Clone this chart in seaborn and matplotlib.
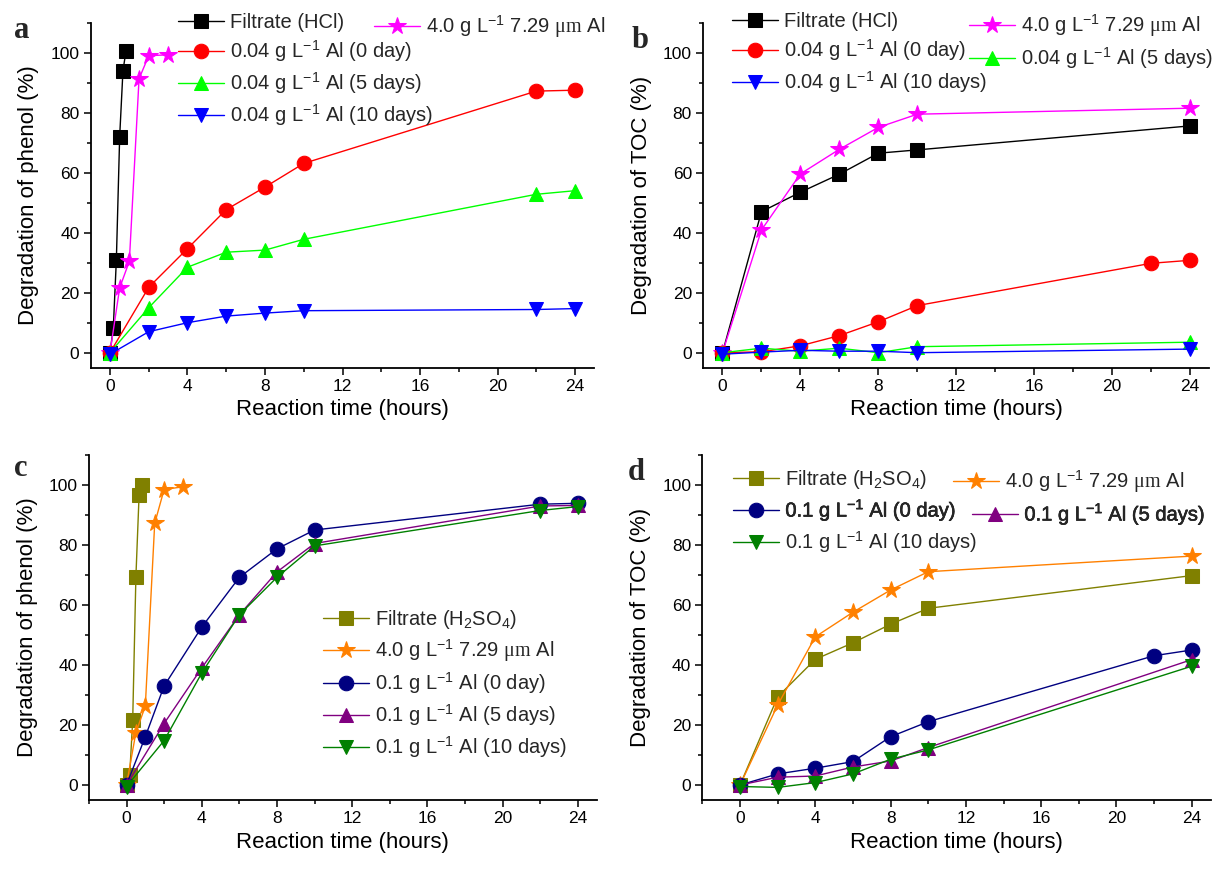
import numpy as np
import pandas as pd
import seaborn as sns
import matplotlib as mpl
import matplotlib.pyplot as plt
import matplotlib.patheffects as pe
from matplotlib.ticker import MultipleLocator
mpl.use('agg')

# ---- data ----
# panel a: phenol, HCl run
a_filt_t = [0, 0.17, 0.33, 0.5, 0.67, 0.83]
a_filt_v = [0, 8.1, 31, 72, 94, 100.7]
a_star_t = [0, 0.5, 1, 1.5, 2, 3]
a_star_v = [0, 21.6, 30.5, 91.3, 99, 99.3]
a_t = [0, 2, 4, 6, 8, 10, 22, 24]
a_day0 = [0, 21.8, 34.7, 47.7, 55.2, 63.1, 87.2, 87.5]
a_day5 = [0, 15, 28.5, 33.5, 34.2, 37.8, 52.8, 54]
a_day10 = [-0.5, 7, 10, 12.2, 13.2, 14, 14.4, 14.7]

# panel b: TOC, HCl run
b_t = [0, 2, 4, 6, 8, 10, 24]
b_filt = [0, 47, 53.5, 59.5, 66.5, 67.6, 75.6]
b_star = [0, 40.9, 59.6, 67.8, 75.1, 79.5, 81.5]
b_t_red = [0, 2, 4, 6, 8, 10, 22, 24]
b_day0 = [0, 0.3, 2.3, 5.7, 10.3, 15.7, 29.8, 30.8]
b_day5 = [0, 1.5, 0.5, 1.5, 0, 2, 3.5]
b_day10 = [-0.5, 0.2, 0.8, 0.5, 0.5, 0, 1.2]

# panel c: phenol, H2SO4 run
c_filt_t = [0, 0.17, 0.33, 0.5, 0.67, 0.83]
c_filt_v = [0, 3.3, 21.7, 69.4, 96.7, 100]
c_star_t = [0, 0.5, 1, 1.5, 2, 3]
c_star_v = [0, 17.5, 26.3, 87.2, 98.5, 99.4]
c_t = [0, 1, 2, 4, 6, 8, 10, 22, 24]
c_day0 = [0, 16.1, 33, 52.6, 69.2, 78.7, 85, 93.6, 93.9]
c_t5 = [0, 2, 4, 6, 8, 10, 22, 24]
c_day5 = [0, 20.5, 39, 56.7, 71, 80.5, 93, 93.2]
c_day10 = [-0.5, 14.8, 37.3, 56.7, 69.2, 79.7, 91.5, 92.8]

# panel d: TOC, H2SO4 run
d_t = [0, 2, 4, 6, 8, 10, 24]
d_filt = [0, 29.4, 41.9, 47.4, 53.6, 58.9, 69.8]
d_star = [0, 26.7, 49.4, 57.6, 65, 71.1, 76.3]
d_t0 = [0, 2, 4, 6, 8, 10, 22, 24]
d_day0 = [0, 3.7, 5.6, 7.8, 16.1, 21.1, 43.1, 45]
d_day5 = [0, 2.6, 3, 6, 8, 12.5, 41.8]
d_day10 = [-0.5, -0.8, 0.8, 3.7, 8.6, 11.7, 39.6]

lab_filt_hcl = 'Filtrate (HCl)'
lab_filt_h2so4 = 'Filtrate (H$_2$SO$_4$)'
lab_star = '4.0 g L$^{-1}$ 7.29 $\\mathsf{μm}$ Al'
lab_a = ['0.04 g L$^{-1}$ Al (0 day)', '0.04 g L$^{-1}$ Al (5 days)',
         '0.04 g L$^{-1}$ Al (10 days)']
lab_c = ['0.1 g L$^{-1}$ Al (0 day)', '0.1 g L$^{-1}$ Al (5 days)',
         '0.1 g L$^{-1}$ Al (10 days)']

sns.set_theme(style='ticks')
plt.rcParams['font.family'] = ['Liberation Sans', 'DejaVu Sans']
plt.rcParams['mathtext.fontset'] = 'custom'
plt.rcParams['mathtext.rm'] = 'Liberation Sans'
plt.rcParams['mathtext.sf'] = 'Liberation Serif'
plt.rcParams['mathtext.default'] = 'regular'
plt.rcParams['axes.unicode_minus'] = True

W, H = 1213, 881
fig = plt.figure(figsize=(W / 100, H / 100), dpi=100)


def px_axes(l, t, r, b):
    return fig.add_axes([l / W, 1 - b / H, (r - l) / W, (b - t) / H])


ax_a = px_axes(90.6, 22.7, 594.4, 367.7)
ax_b = px_axes(703, 22.7, 1209.5, 367.7)
ax_c = px_axes(88.9, 455, 596.5, 800)
ax_d = px_axes(702.4, 455, 1210.6, 800)

MS = {'s': 9.5, 'o': 10.5, '^': 10.5, 'v': 10.5, '*': 13}


def series(ax, t, v, color, marker):
    sns.lineplot(x=t, y=v, ax=ax, color=color, marker=marker,
                 markersize=MS[marker], markeredgecolor=color,
                 markerfacecolor=color, linewidth=1.0, sort=False,
                 legend=False, estimator=None)
    return ax.lines[-1]


def style(ax, xmin, ylabel):
    ax.set_xlim(xmin, 25)
    ax.set_ylim(-5, 110)
    ax.set_xticks([0, 4, 8, 12, 16, 20, 24])
    ax.set_yticks([0, 20, 40, 60, 80, 100])
    ax.xaxis.set_minor_locator(MultipleLocator(2))
    ax.yaxis.set_minor_locator(MultipleLocator(10))
    ax.tick_params(which='major', direction='out', length=5, width=1.1,
                   labelsize=12.5, color='black', labelcolor='black', pad=3)
    ax.tick_params(which='minor', direction='out', length=3, width=1.1,
                   color='black')
    for s in ['top', 'right']:
        ax.spines[s].set_visible(False)
    for s in ['left', 'bottom']:
        ax.spines[s].set_linewidth(1.3)
        ax.spines[s].set_color('black')
    ax.set_xlabel('Reaction time (hours)', fontsize=16, color='black',
                  labelpad=4)
    ax.set_ylabel(ylabel, fontsize=16, color='black', labelpad=8)
    ax.set_facecolor('white')


def legend(ax, handles, x, y, heavy=()):
    leg = ax.legend(handles, [h.get_label() for h in handles],
                    loc='upper left', bbox_to_anchor=(x / W, 1 - y / H),
                    bbox_transform=fig.transFigure, frameon=False,
                    borderpad=0, fontsize=14.5, handlelength=2.3,
                    handletextpad=0.3, labelspacing=0.3, borderaxespad=0)
    # the reference prints some entries a little heavier
    for i in heavy:
        leg.get_texts()[i].set_path_effects(
            [pe.withStroke(linewidth=0.4, foreground='black')])
    ax.legend_ = None
    ax.add_artist(leg)


# panel a
fa = series(ax_a, a_filt_t, a_filt_v, '#000000', 's')
sa = series(ax_a, a_star_t, a_star_v, '#FF00FF', '*')
r0 = series(ax_a, a_t, a_day0, '#FF0000', 'o')
r5 = series(ax_a, a_t, a_day5, '#00FF00', '^')
r10 = series(ax_a, a_t, a_day10, '#0000FF', 'v')
fa.set_label(lab_filt_hcl)
sa.set_label(lab_star)
for h, l in zip([r0, r5, r10], lab_a):
    h.set_label(l)
style(ax_a, -1, 'Degradation of phenol (%)')
legend(ax_a, [fa, r0, r5, r10], 178, 13)
legend(ax_a, [sa], 374, 13)

# panel b
fb = series(ax_b, b_t, b_filt, '#000000', 's')
sb = series(ax_b, b_t, b_star, '#FF00FF', '*')
q0 = series(ax_b, b_t_red, b_day0, '#FF0000', 'o')
q5 = series(ax_b, b_t, b_day5, '#00FF00', '^')
q10 = series(ax_b, b_t, b_day10, '#0000FF', 'v')
fb.set_label(lab_filt_hcl)
sb.set_label(lab_star)
for h, l in zip([q0, q5, q10], lab_a):
    h.set_label(l)
style(ax_b, -1, 'Degradation of TOC (%)')
legend(ax_b, [fb, q0, q10], 732, 12)
legend(ax_b, [sb, q5], 969, 12)

# panel c
fc = series(ax_c, c_filt_t, c_filt_v, '#808000', 's')
sc = series(ax_c, c_star_t, c_star_v, '#FF8000', '*')
p0 = series(ax_c, c_t, c_day0, '#000080', 'o')
p5 = series(ax_c, c_t5, c_day5, '#800080', '^')
p10 = series(ax_c, c_t5, c_day10, '#008000', 'v')
fc.set_label(lab_filt_h2so4)
sc.set_label(lab_star)
for h, l in zip([p0, p5, p10], lab_c):
    h.set_label(l)
style(ax_c, -2, 'Degradation of phenol (%)')
legend(ax_c, [fc, sc, p0, p5, p10], 323, 608)

# panel d
fd = series(ax_d, d_t, d_filt, '#808000', 's')
sd = series(ax_d, d_t, d_star, '#FF8000', '*')
o0 = series(ax_d, d_t0, d_day0, '#000080', 'o')
o5 = series(ax_d, d_t, d_day5, '#800080', '^')
o10 = series(ax_d, d_t, d_day10, '#008000', 'v')
fd.set_label(lab_filt_h2so4)
sd.set_label(lab_star)
for h, l in zip([o0, o5, o10], lab_c):
    h.set_label(l)
style(ax_d, -2, 'Degradation of TOC (%)')
legend(ax_d, [fd, o0, o10], 733, 468, heavy=(1,))
legend(ax_d, [sd], 953, 468)
legend(ax_d, [o5], 972, 501, heavy=(0,))

for letter, x, y in [('a', 14, 38), ('b', 632, 48), ('c', 14, 476), ('d', 628, 480)]:
    fig.text(x / W, 1 - y / H, letter, fontsize=22, fontweight='bold',
             family='Liberation Serif', va='baseline', ha='left')

fig.savefig('out.png', dpi=100, facecolor='white')
